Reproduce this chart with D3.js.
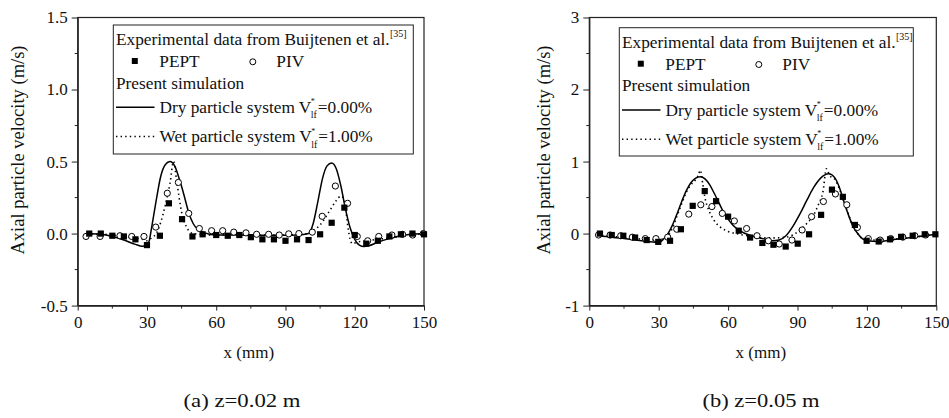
<!DOCTYPE html>
<html><head><meta charset="utf-8">
<script src="https://cdn.jsdelivr.net/npm/d3@7"></script>
<style>
html,body{margin:0;padding:0;background:#fff;}
svg{display:block;}
svg text{font-family:"Liberation Serif","Times New Roman",Times,serif;}
</style></head>
<body>
<svg id="chart" width="949" height="418"></svg>
<script>
// ---------- data ----------
const xTicks = [0, 30, 60, 90, 120, 150];
const xMinorTicks = [15, 45, 75, 105, 135];

// panel (a) z = 0.02 m
const yTicksA = [-0.5, 0, 0.5, 1.0, 1.5];
const yTickLabelsA = ["-0.5", "0.0", "0.5", "1.0", "1.5"];
const yMinorA = [-0.25, 0.25, 0.75, 1.25];
const peptXA = [5,10,15,20,25,30,35.6,39.5,45.2,49.7,54.1,60,65,70,75,80,85,90,95,100,105,110,115.5,120,125,130,135,140,145,150];
const peptVA = [0,0,-0.015,-0.02,-0.04,-0.08,-0.015,0.21,0.1,-0.02,-0.005,-0.01,-0.015,-0.01,-0.025,-0.04,-0.04,-0.05,-0.04,-0.045,-0.005,0.075,0.18,-0.01,-0.07,-0.05,-0.02,-0.005,0,-0.005];
const pivXA = [3.6,9.7,18.3,23.4,28.7,33.8,38.8,43.6,48.1,52.7,58,62.8,67.6,72.9,77.5,82.7,87.3,91.4,95.8,101.6,105.9,111.6,116.9,121.1,125.6,130.4,136.1,140.7,145.1,149.7];
const pivVA = [-0.02,-0.02,-0.015,-0.02,-0.02,0.045,0.28,0.355,0.14,0.035,0.02,0.02,0.01,0.005,-0.005,-0.005,-0.01,-0.002,0,0.01,0.12,0.33,0.21,-0.02,-0.05,-0.02,-0.01,-0.005,-0.01,0];
const dryXA = [4,10,15,20,25,28,30,31,32,34,36,38,40,42,44,46,48,50,52,55,60,70,80,90,95,100,102,104,106,108,110,112,114,116,118,120,122,124,126,130,135,140,145,150];
const dryVA = [0,-0.005,-0.02,-0.045,-0.075,-0.088,-0.08,-0.05,0.04,0.23,0.4,0.48,0.5,0.47,0.38,0.27,0.15,0.07,0.03,0.005,-0.01,-0.01,-0.012,-0.012,-0.01,0,0.07,0.22,0.38,0.47,0.49,0.45,0.33,0.17,0.04,-0.04,-0.08,-0.09,-0.085,-0.06,-0.035,-0.015,-0.005,0];
const wetXA = [4,10,20,28,30,32,34,36,38,40,41.5,43,45,47,50,60,70,80,90,100,103,106,108,110,112,114,115,116,117,118,119,121,125,130,140,150];
const wetVA = [-0.005,-0.005,-0.02,-0.04,-0.05,-0.03,0,0.08,0.2,0.35,0.5,0.35,0.15,0.05,0,-0.01,-0.01,-0.01,-0.01,0,0.03,0.08,0.13,0.18,0.23,0.26,0.25,0.18,0.05,-0.04,-0.07,-0.06,-0.05,-0.04,-0.02,0];

// panel (b) z = 0.05 m
const yTicksB = [-1, 0, 1, 2, 3];
const yTickLabelsB = ["-1", "0", "1", "2", "3"];
const yMinorB = [-0.5, 0.5, 1.5, 2.5];
const peptXB = [4.6,9.7,14.7,19.8,24.8,29.8,34.9,39.6,44.7,49.9,54.8,60,64.6,69.5,74.8,79.6,84.9,90.1,95,100.2,104.9,109.6,114.8,119.9,125.1,130,134.8,139.8,145,149.6];
const peptVB = [0,-0.02,-0.03,-0.055,-0.09,-0.115,-0.1,0.06,0.385,0.59,0.45,0.235,0.04,-0.055,-0.13,-0.155,-0.18,-0.14,-0.01,0.26,0.61,0.51,0.12,-0.1,-0.11,-0.08,-0.045,-0.03,-0.01,-0.01];
const pivXB = [4,9,13.6,18.6,24.2,28.8,33.9,37.8,43,48.2,53,57.5,62.7,68,72.5,77.4,82.1,87.6,92,96.1,101.2,106.4,111.3,115.9,120.6,125.7,130.3,135.5,140.7,145.4];
const pivVB = [-0.02,-0.02,-0.03,-0.05,-0.07,-0.07,-0.05,0.06,0.27,0.4,0.375,0.28,0.175,0.07,-0.03,-0.1,-0.145,-0.09,0.05,0.235,0.445,0.55,0.4,0.085,-0.07,-0.09,-0.07,-0.05,-0.03,-0.02];
const dryXB = [3.5,10,15,20,25,30,32,34,36,38,40,42,44,46,48,50,52,54,56,58,60,62,65,70,75,79,82,85,88,91,94,97,100,103.5,106,108,110,112,114,116,118,120,125,130,135,140,145,150];
const dryVB = [-0.03,-0.05,-0.07,-0.09,-0.11,-0.125,-0.08,0,0.12,0.28,0.45,0.6,0.71,0.77,0.79,0.76,0.68,0.56,0.43,0.3,0.2,0.12,0.04,-0.03,-0.07,-0.1,-0.09,-0.03,0.1,0.27,0.46,0.64,0.77,0.83,0.78,0.65,0.45,0.26,0.1,0,-0.07,-0.1,-0.11,-0.09,-0.07,-0.05,-0.03,-0.01];
const wetXB = [3.5,10,20,30,32,34,36,38,40,42,44,46,47,48,49,50,52,54,57,60,65,70,75,80,85,88,91,94,97,99,101,102.5,104,106,108,110,112,114,116,118,120,130,140,150];
const wetVB = [-0.02,-0.04,-0.07,-0.09,-0.07,-0.03,0.08,0.25,0.42,0.58,0.68,0.75,0.8,0.88,0.7,0.5,0.3,0.18,0.08,0.03,-0.01,-0.04,-0.06,-0.06,-0.05,-0.02,0.05,0.14,0.26,0.4,0.58,0.9,0.8,0.76,0.63,0.45,0.27,0.1,0,-0.07,-0.09,-0.08,-0.05,-0.01];

// ---------- drawing ----------
const svg = d3.select("#chart");
const zip = (xs, vs) => xs.map((x, i) => ({x, v: vs[i]}));
const SERIF = "Liberation Serif, Times New Roman, Times, serif";

function panel(o) {
  const x = d3.scaleLinear().domain([0, 150]).range([o.left, o.right]);
  const y = d3.scaleLinear().domain(o.yDomain).range([o.bottom, o.top]);
  const g = svg.append("g").attr("font-family", SERIF);

  // frame
  g.append("rect").attr("x", o.left).attr("y", o.top)
    .attr("width", o.right - o.left).attr("height", o.bottom - o.top)
    .attr("fill", "none").attr("stroke", "#222").attr("stroke-width", 1.2);

  // y axis
  const yAx = g.append("g").attr("transform", `translate(${o.left},0)`)
    .call(d3.axisLeft(y).tickValues(o.yTicks).tickSize(6).tickPadding(o.yPad).tickSizeOuter(0)
      .tickFormat((d, i) => o.yLabels[i]));
  yAx.append("g").selectAll("line").data(o.yMinor).join("line")
    .attr("x1", -3).attr("x2", 0).attr("y1", d => y(d)).attr("y2", d => y(d)).attr("stroke", "#222");
  // x axis
  const xAx = g.append("g").attr("transform", `translate(0,${o.bottom})`)
    .call(d3.axisBottom(x).tickValues(xTicks).tickSize(5).tickSizeOuter(0).tickFormat(d3.format("d")));
  xAx.append("g").selectAll("line").data(xMinorTicks).join("line")
    .attr("y1", 0).attr("y2", 3).attr("x1", d => x(d)).attr("x2", d => x(d)).attr("stroke", "#222");
  [yAx, xAx].forEach(a => {
    a.attr("font-family", SERIF);
    a.select(".domain").attr("stroke", "#222").attr("stroke-width", 1.2);
    a.selectAll(".tick line").attr("stroke", "#222");
    a.selectAll("text").attr("font-size", 17).attr("fill", "#111");
  });
  xAx.selectAll(".tick text").attr("y", 22.7).attr("dy", null);

  // lines
  const line = d3.line().x(d => x(d.x)).y(d => y(d.v)).curve(d3.curveMonotoneX);
  g.append("path").datum(zip(o.dryX, o.dryV)).attr("d", line)
    .attr("fill", "none").attr("stroke", "#000").attr("stroke-width", 1.5);
  g.append("path").datum(zip(o.wetX, o.wetV)).attr("d", line)
    .attr("fill", "none").attr("stroke", "#000").attr("stroke-width", 1.6)
    .attr("stroke-dasharray", "1.4,3.2");

  // markers
  g.append("g").selectAll("circle").data(zip(o.pivX, o.pivV)).join("circle")
    .attr("cx", d => x(d.x)).attr("cy", d => y(d.v)).attr("r", 3.1)
    .attr("fill", "#fff").attr("stroke", "#000").attr("stroke-width", 1);
  g.append("g").selectAll("rect").data(zip(o.peptX, o.peptV)).join("rect")
    .attr("x", d => x(d.x) - 3.1).attr("y", d => y(d.v) - 3.1)
    .attr("width", 6.2).attr("height", 6.2).attr("fill", "#000");

  // axis titles
  g.append("text").attr("transform", `translate(${o.yLabelX},150) rotate(-90)`)
    .attr("text-anchor", "middle").attr("font-size", 18.5).attr("fill", "#111")
    .text("Axial particle velocity (m/s)");
  g.append("text").attr("x", (o.left + o.right) / 2 - 2).attr("y", 357.5)
    .attr("text-anchor", "middle").attr("font-size", 17).attr("fill", "#111").text("x (mm)");
  g.append("text").attr("x", o.capX).attr("y", 407)
    .attr("text-anchor", "middle").attr("font-size", 18.5).attr("fill", "#111")
    .attr("textLength", 117).attr("lengthAdjust", "spacingAndGlyphs")
    .text(o.caption);

  // legend
  const L = o.leg;
  const lg = g.append("g");
  lg.append("rect").attr("x", L.x0).attr("y", L.y0).attr("width", L.x1 - L.x0).attr("height", L.y1 - L.y0)
    .attr("fill", "#fff").attr("stroke", "#222").attr("stroke-width", 1);
  const fs = 17.3;
  const tx = L.x0 + 2.7;
  const t1 = lg.append("text").attr("x", tx).attr("y", L.y0 + 20).attr("font-size", fs).attr("fill", "#111")
    .text("Experimental data from Buijtenen et al.");
  const w1 = t1.node().getComputedTextLength();
  lg.append("text").attr("x", tx + w1 + 0.5).attr("y", L.y0 + 12).attr("font-size", 10).attr("fill", "#111").text("[35]");
  lg.append("rect").attr("x", L.x0 + 18.5).attr("y", L.y0 + 33).attr("width", 6).attr("height", 6).attr("fill", "#000");
  lg.append("text").attr("x", L.x0 + 46).attr("y", L.y0 + 42).attr("font-size", fs).attr("fill", "#111").text("PEPT");
  lg.append("circle").attr("cx", L.x0 + 139.5).attr("cy", L.y0 + 36.8).attr("r", 3)
    .attr("fill", "#fff").attr("stroke", "#000").attr("stroke-width", 1);
  lg.append("text").attr("x", L.x0 + 163).attr("y", L.y0 + 42).attr("font-size", fs).attr("fill", "#111").text("PIV");
  lg.append("text").attr("x", tx).attr("y", L.y0 + 63.5).attr("font-size", fs).attr("fill", "#111").text("Present simulation");

  const rows = [
    {dy: 82.3, dash: null, label: "Dry particle system V", val: "=0.00%"},
    {dy: 111.5, dash: "1.4,3.2", label: "Wet particle system V", val: "=1.00%"}
  ];
  rows.forEach(r => {
    lg.append("line").attr("x1", tx).attr("x2", tx + 38.5).attr("y1", L.y0 + r.dy).attr("y2", L.y0 + r.dy)
      .attr("stroke", "#000").attr("stroke-width", 1.5).attr("stroke-dasharray", r.dash);
    const t = lg.append("text").attr("x", tx + 43.5).attr("y", L.y0 + r.dy + 5.5).attr("font-size", fs)
      .attr("fill", "#111").text(r.label);
    const w = t.node().getComputedTextLength();
    const sx = tx + 43.5 + w;
    lg.append("text").attr("x", sx - 0.5).attr("y", L.y0 + r.dy - 3).attr("font-size", 8).attr("fill", "#111").text("*");
    lg.append("text").attr("x", sx - 0.5).attr("y", L.y0 + r.dy + 11).attr("font-size", 10).attr("fill", "#111").text("lf");
    lg.append("text").attr("x", sx + 6.5).attr("y", L.y0 + r.dy + 5.5).attr("font-size", fs).attr("fill", "#111").text(r.val);
  });
}

panel({
  left: 77.7, right: 424, top: 17.5, bottom: 305.6,
  yDomain: [-0.5, 1.5], yTicks: yTicksA, yLabels: yTickLabelsA, yMinor: yMinorA, yPad: 4,
  peptX: peptXA, peptV: peptVA, pivX: pivXA, pivV: pivVA,
  dryX: dryXA, dryV: dryVA, wetX: wetXA, wetV: wetVA,
  yLabelX: 24, caption: "(a) z=0.02 m", capX: 242,
  leg: {x0: 113.3, y0: 25, x1: 413.3, y1: 154}
});
panel({
  left: 589.3, right: 936.3, top: 17.5, bottom: 305.6,
  yDomain: [-1, 3], yTicks: yTicksB, yLabels: yTickLabelsB, yMinor: yMinorB, yPad: 4,
  peptX: peptXB, peptV: peptVB, pivX: pivXB, pivV: pivVB,
  dryX: dryXB, dryV: dryVB, wetX: wetXB, wetV: wetVB,
  yLabelX: 549.5, caption: "(b) z=0.05 m", capX: 761,
  leg: {x0: 619.3, y0: 27.7, x1: 913.3, y1: 156}
});
</script>
</body></html>
